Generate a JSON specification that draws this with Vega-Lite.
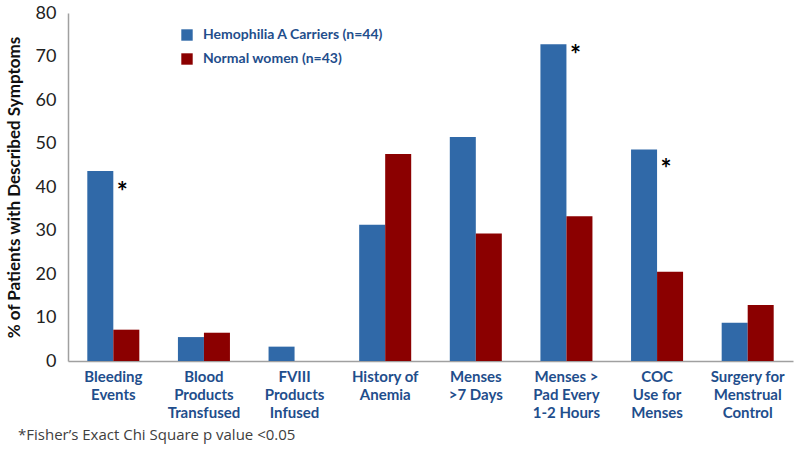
{
  "$schema": "https://vega.github.io/schema/vega-lite/v6.json",
  "autosize": "none",
  "width": 725,
  "height": 348,
  "padding": {"left": 68, "top": 13, "right": 7, "bottom": 95},
  "background": "white",
  "config": {"view": {"stroke": null}, "font": "Lato"},
  "title": {
    "text": "*Fisher’s Exact Chi Square p value <0.05",
    "orient": "bottom",
    "anchor": "start",
    "frame": "group",
    "dx": -50,
    "offset": 8,
    "fontSize": 15,
    "fontWeight": "normal",
    "color": "#404040",
    "font": "Open Sans"
  },
  "datasets": {
    "bars": [
      {"cat": "Bleeding|Events", "group": "Hemophilia A Carriers (n=44)", "pct": 43.7},
      {"cat": "Bleeding|Events", "group": "Normal women (n=43)", "pct": 7.2},
      {"cat": "Blood|Products|Transfused", "group": "Hemophilia A Carriers (n=44)", "pct": 5.5},
      {"cat": "Blood|Products|Transfused", "group": "Normal women (n=43)", "pct": 6.5},
      {"cat": "FVIII|Products|Infused", "group": "Hemophilia A Carriers (n=44)", "pct": 3.3},
      {"cat": "FVIII|Products|Infused", "group": "Normal women (n=43)", "pct": 0},
      {"cat": "History of|Anemia", "group": "Hemophilia A Carriers (n=44)", "pct": 31.3},
      {"cat": "History of|Anemia", "group": "Normal women (n=43)", "pct": 47.6},
      {"cat": "Menses|>7 Days", "group": "Hemophilia A Carriers (n=44)", "pct": 51.5},
      {"cat": "Menses|>7 Days", "group": "Normal women (n=43)", "pct": 29.3},
      {"cat": "Menses >|Pad Every|1-2 Hours", "group": "Hemophilia A Carriers (n=44)", "pct": 72.8},
      {"cat": "Menses >|Pad Every|1-2 Hours", "group": "Normal women (n=43)", "pct": 33.3},
      {"cat": "COC|Use for|Menses", "group": "Hemophilia A Carriers (n=44)", "pct": 48.6},
      {"cat": "COC|Use for|Menses", "group": "Normal women (n=43)", "pct": 20.5},
      {"cat": "Surgery for|Menstrual|Control", "group": "Hemophilia A Carriers (n=44)", "pct": 8.8},
      {"cat": "Surgery for|Menstrual|Control", "group": "Normal women (n=43)", "pct": 12.9}
    ],
    "stars": [
      {"cat": "Bleeding|Events", "at": 40.0, "mark": "*"},
      {"cat": "Menses >|Pad Every|1-2 Hours", "at": 71.5, "mark": "*"},
      {"cat": "COC|Use for|Menses", "at": 45.3, "mark": "*"}
    ]
  },
  "layer": [
    {
      "data": {"name": "bars"},
      "mark": {"type": "bar"},
      "encoding": {
        "x": {
          "field": "cat",
          "type": "nominal",
          "sort": null,
          "scale": {"paddingInner": 0.426, "paddingOuter": 0.213},
          "axis": {
            "title": null,
            "labelExpr": "split(datum.value, '|')",
            "labelAngle": 0,
            "labelFontSize": 15,
            "labelFontWeight": "bold",
            "labelColor": "#1F4E8C",
            "labelLineHeight": 18,
            "labelPadding": 8,
            "ticks": false,
            "domainColor": "#A0A0A0",
            "domainWidth": 1.5,
            "labelBaseline": "top"
          }
        },
        "xOffset": {
          "field": "group",
          "type": "nominal",
          "sort": ["Hemophilia A Carriers (n=44)", "Normal women (n=43)"]
        },
        "y": {
          "field": "pct",
          "type": "quantitative",
          "scale": {"domain": [0, 80], "nice": false},
          "axis": {
            "title": "% of Patients with Described Symptoms",
            "titleFontSize": 17,
            "titleFontWeight": "bold",
            "titleColor": "#111111",
            "titlePadding": 12,
            "values": [0, 10, 20, 30, 40, 50, 60, 70, 80],
            "labelFontSize": 18,
            "labelColor": "#222222",
            "labelPadding": 12,
            "ticks": false,
            "grid": false,
            "domainColor": "#A0A0A0",
            "domainWidth": 1.5
          }
        },
        "color": {
          "field": "group",
          "type": "nominal",
          "scale": {
            "domain": ["Hemophilia A Carriers (n=44)", "Normal women (n=43)"],
            "range": ["#3069A8", "#8B0000"]
          },
          "legend": {
            "title": null,
            "orient": "none",
            "legendX": 112,
            "legendY": 15,
            "symbolType": "square",
            "symbolSize": 130,
            "symbolStrokeWidth": 0,
            "labelFontSize": 14,
            "labelFontWeight": "bold",
            "labelColor": "#1F4E8C",
            "labelLimit": 400,
            "rowPadding": 10,
            "labelOffset": 9
          }
        }
      }
    },
    {
      "data": {"name": "stars"},
      "mark": {"type": "text", "fontSize": 26, "fontWeight": "bold", "color": "#000000", "dx": 9, "dy": 6, "baseline": "middle"},
      "encoding": {
        "x": {"field": "cat", "type": "nominal", "sort": null},
        "y": {"field": "at", "type": "quantitative"},
        "text": {"field": "mark"}
      }
    }
  ]
}
